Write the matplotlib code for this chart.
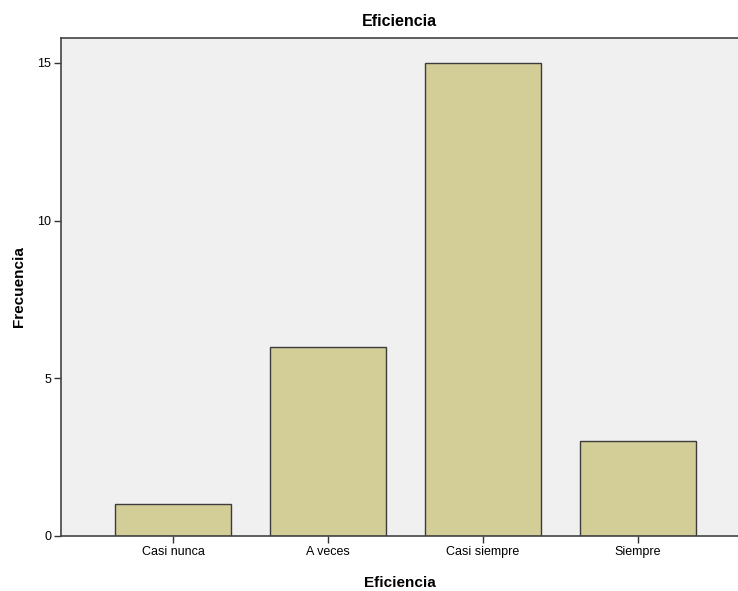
import matplotlib
matplotlib.use("Agg")
import matplotlib.pyplot as plt

categories = ["Casi nunca", "A veces", "Casi siempre", "Siempre"]
frequencies = [1, 6, 15, 3]
yticks = [0, 5, 10, 15]

plt.rcParams['font.family'] = ['Liberation Sans', 'DejaVu Sans']

fig = plt.figure(figsize=(7.38, 5.91), dpi=100)
ax = fig.add_axes([61/738, 55/591, 1 - 61/738, (536-38)/591])
ax.set_facecolor('#F0F0F0')
x = list(range(len(categories)))
ax.bar(x, frequencies, width=0.75, color='#D3CE98', edgecolor='#3C3C3C', linewidth=1.0, zorder=2)
ax.set_xlim(-0.723, 3.645)
ax.set_ylim(0, 15.79)
ax.set_xticks(x)
ax.set_xticklabels(categories, fontsize=9)
ax.set_yticks(yticks)
ax.set_yticklabels([str(v) for v in yticks], fontsize=9)
for s in ['left', 'bottom', 'top']:
    ax.spines[s].set_color('#444444')
    ax.spines[s].set_linewidth(1.2)
ax.spines['right'].set_visible(False)
ax.tick_params(axis='both', length=5, width=1, color='#333333', pad=2)
ax.set_title("Eficiencia", fontsize=11.5, fontweight='bold', pad=9)
ax.set_xlabel("Eficiencia", fontsize=11, fontweight='bold', labelpad=13)
ax.set_ylabel("Frecuencia", fontsize=11, fontweight='bold', labelpad=8)
fig.savefig("out.png", dpi=100)
